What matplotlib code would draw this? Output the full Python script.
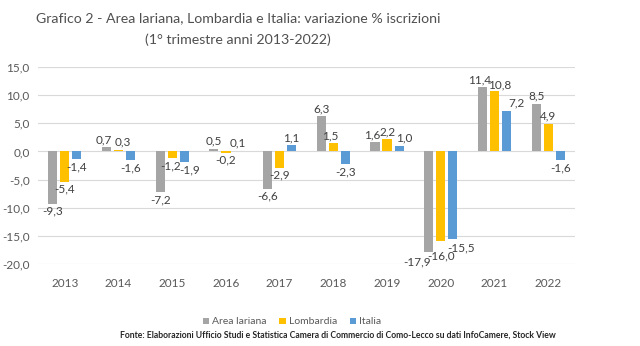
import matplotlib
matplotlib.use("Agg")
import matplotlib.pyplot as plt
import numpy as np

years = ["2013", "2014", "2015", "2016", "2017", "2018", "2019", "2020", "2021", "2022"]
area_lariana = [-9.3, 0.7, -7.2, 0.5, -6.6, 6.3, 1.6, -17.9, 11.4, 8.5]
lombardia = [-5.4, 0.3, -1.2, -0.2, -2.9, 1.5, 2.2, -16.0, 10.8, 4.9]
italia = [-1.4, -1.6, -1.9, 0.1, 1.1, -2.3, 1.0, -15.5, 7.2, -1.6]
series_names = ["Area lariana", "Lombardia", "Italia"]
colors = ["#A5A5A5", "#FFC000", "#5B9BD5"]
yticks = [-20, -15, -10, -5, 0, 5, 10, 15]

plt.rcParams['font.family'] = ['Lato', 'DejaVu Sans']

fig = plt.figure(figsize=(6.4, 3.46), dpi=100)
ax = fig.add_axes([38/640, 1-264/346, (575-38)/640, (264-67)/346])

# label nudges (pixels) for crowded groups: (series, year index) -> (dx, dy)
nudges = {
    (0, 7): (-12, -2), (1, 7): (0, -7), (2, 7): (8, -2),
    (0, 8): (-3, 0), (1, 8): (5, -2), (2, 8): (10, 0),
    (0, 1): (-3, 0), (1, 1): (4, 0),
    (1, 2): (-2, 0), (2, 2): (5, 0),
    (1, 5): (-3, 0),
    (0, 6): (-3, 0), (1, 6): (1, 0), (2, 6): (5, 0),
}

x = np.arange(len(years))
w = 0.17
step = 0.225
for i, (vals, name, c) in enumerate(zip([area_lariana, lombardia, italia], series_names, colors)):
    xs = x + (i-1)*step
    ax.bar(xs, vals, width=w, color=c, label=name, zorder=3)
    for j, (xi, v) in enumerate(zip(xs, vals)):
        txt = f"{v:.1f}".replace(".", ",")
        dx, dy = nudges.get((i, j), (0, 0))
        if v >= 0:
            ax.annotate(txt, (xi, v), xytext=(dx, 2 + dy), textcoords="offset pixels",
                        ha="center", va="bottom", fontsize=8.5, color="#404040")
        else:
            ax.annotate(txt, (xi, v), xytext=(dx, -2 + dy), textcoords="offset pixels",
                        ha="center", va="top", fontsize=8.5, color="#404040")

ax.set_ylim(-20, 15)
ax.set_xlim(-0.5, len(years)-0.5)
ax.set_yticks(yticks)
ax.set_yticklabels([f"{t:.1f}".replace(".", ",") for t in yticks], fontsize=8.5, color="#595959")
ax.set_xticks(x)
ax.set_xticklabels(years, fontsize=8.5, color="#595959")
ax.tick_params(length=0, pad=10)
ax.tick_params(axis='y', pad=6)
ax.grid(axis='y', color="#D9D9D9", linewidth=0.8, zorder=0)
for s in ax.spines.values():
    s.set_visible(False)

fig.text(238/640, 1-18/346, "Grafico 2 - Area lariana, Lombardia e Italia: variazione % iscrizioni",
         ha="center", va="center", fontsize=10.2, color="#505050")
fig.text(238/640, 1-40/346, "(1° trimestre anni 2013-2022)",
         ha="center", va="center", fontsize=10.2, color="#505050")

leg = fig.legend(loc="center", bbox_to_anchor=(292/640, 1-322/346), ncol=3, frameon=False,
                 fontsize=7.5, handlelength=0.6, handleheight=0.6, handletextpad=0.3, columnspacing=1.2)
for t in leg.get_texts():
    t.set_color("#595959")

fig.text(120/640, 1-335/346,
         "Fonte: Elaborazioni Ufficio Studi e Statistica Camera di Commercio di Como-Lecco su dati InfoCamere, Stock View",
         ha="left", va="center", fontsize=6.2, fontweight="bold", color="#262626")

fig.savefig("out.png", dpi=100)
